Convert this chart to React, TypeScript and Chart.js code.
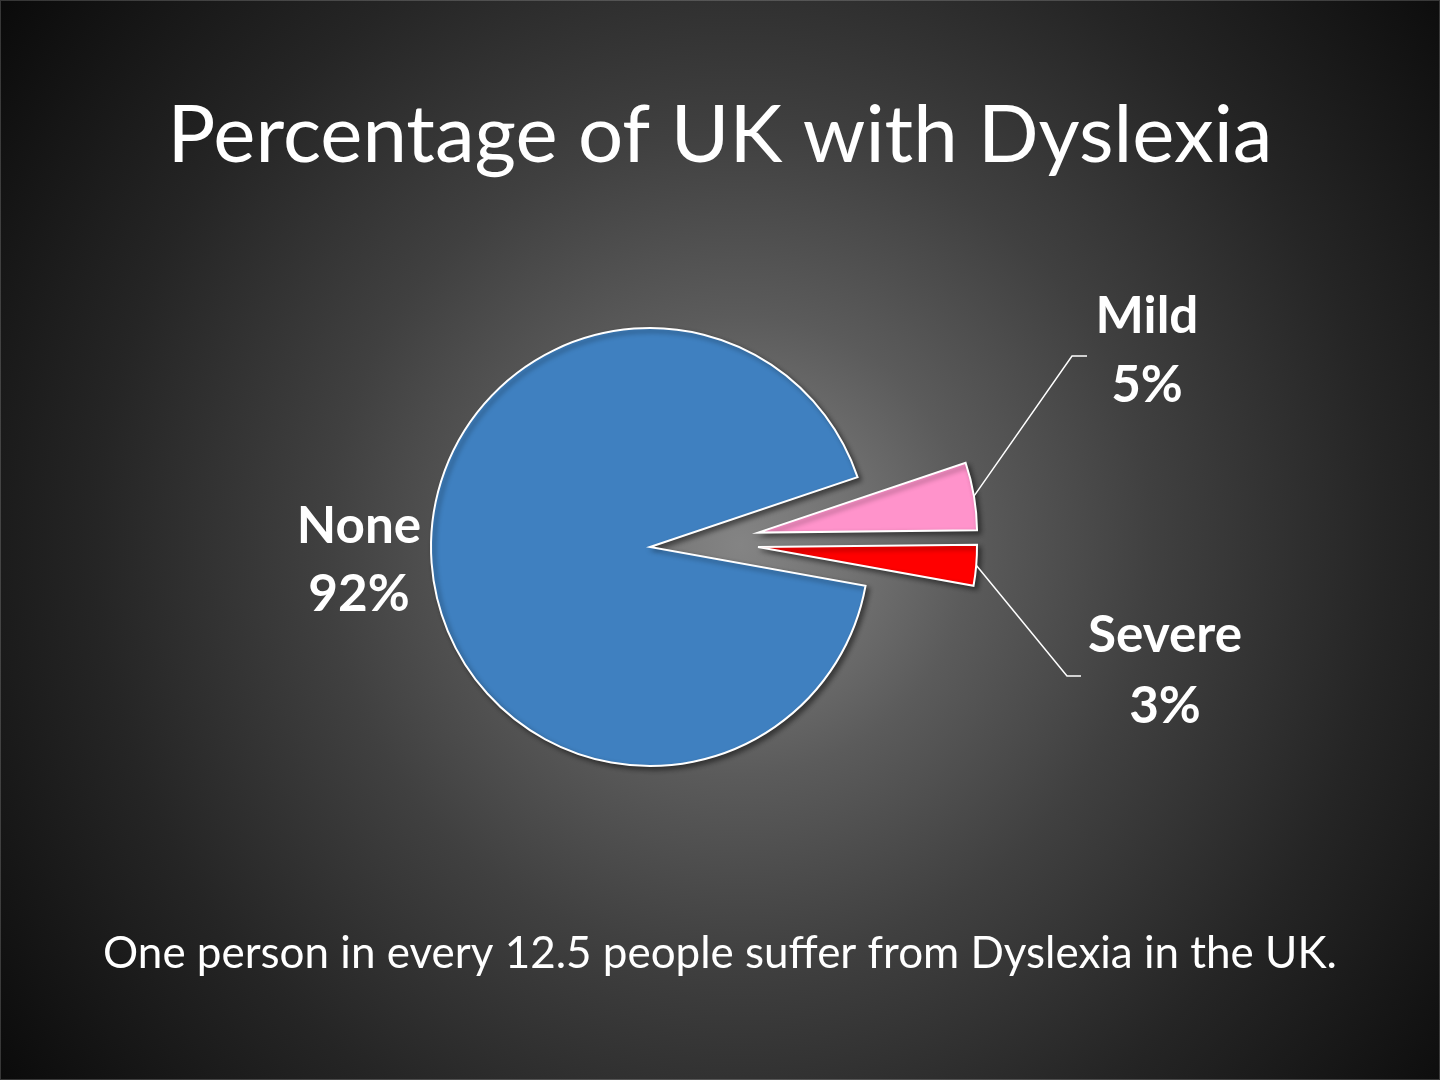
import { useEffect, useRef } from "react";
import { Chart, registerables, ArcElement, PieController } from "chart.js";

// ---- data ----
const categories = ["Mild", "Severe", "None"];
const percentages = [5, 3, 92];
const sliceColors = ["#FF93CB", "#FF0000", "#3F80C0"];
const explode = [109, 108, 0];
const explodeShift = [2, -4.8, 0]; // degrees of deviation from the slice bisector
const titleText = "Percentage of UK with Dyslexia";
const footnoteText = "One person in every 12.5 people suffer from Dyslexia in the UK.";

function explodeVector(startAngle: number, endAngle: number, dist: number, shiftDeg: number) {
  const dir = (startAngle + endAngle) / 2 + (shiftDeg * Math.PI) / 180;
  return { dx: Math.cos(dir) * dist, dy: Math.sin(dir) * dist };
}

// Exploded arc: translate the whole slice outward, keeping its radius
class ExplodedArc extends (ArcElement as any) {
  static id = "explodedArc";
  static defaults = { ...(ArcElement as any).defaults, explode: 0, explodeShift: 0 };
  draw(ctx: CanvasRenderingContext2D) {
    const self: any = this;
    const o = self.options || {};
    const v = explodeVector(self.startAngle, self.endAngle, o.explode || 0, o.explodeShift || 0);
    ctx.save();
    ctx.translate(v.dx, v.dy);
    super.draw(ctx);
    ctx.restore();
  }
}
class ExplodedPie extends (PieController as any) {
  static id = "explodedPie";
  static defaults = { ...(PieController as any).defaults, dataElementType: "explodedArc" };
}

Chart.register(...registerables, ExplodedArc as any, ExplodedPie as any);

// ---- label layout (styling only) ----
const labelLayout: Record<string, { x: number; y1: number; y2: number; elbow?: [number, number]; end?: [number, number] }> = {
  Mild: { x: 1147, y1: 333, y2: 402, elbow: [1072, 356], end: [1087, 356] },
  Severe: { x: 1165, y1: 652, y2: 723, elbow: [1067, 676], end: [1081, 676] },
  None: { x: 359, y1: 543, y2: 611 },
};

const FAMILY = "Lato, Carlito, Calibri, 'Open Sans', sans-serif";

function fitSize(ctx: CanvasRenderingContext2D, text: string, weight: string, target: number) {
  ctx.font = `${weight} 100px ${FAMILY}`;
  const w = ctx.measureText(text).width;
  return (100 * target) / w;
}

const slidePlugin = {
  id: "slide",
  beforeDraw(chart: any) {
    const { ctx, width, height } = chart;
    ctx.save();
    const g = ctx.createRadialGradient(740, 545, 0, 740, 545, 920);
    g.addColorStop(0, "#848484");
    g.addColorStop(0.12, "#737373");
    g.addColorStop(0.25, "#5b5b5b");
    g.addColorStop(0.45, "#404040");
    g.addColorStop(0.7, "#252525");
    g.addColorStop(1, "#0a0a0a");
    ctx.fillStyle = g;
    ctx.fillRect(0, 0, width, height);
    ctx.strokeStyle = "rgba(255,255,255,0.18)";
    ctx.lineWidth = 1;
    ctx.strokeRect(0.5, 0.5, width - 1, height - 1);
    ctx.restore();
  },
  beforeDatasetsDraw(chart: any) {
    const ctx = chart.ctx;
    ctx.save();
    ctx.shadowColor = "rgba(0,0,0,0.45)";
    ctx.shadowBlur = 5;
    ctx.shadowOffsetX = 3;
    ctx.shadowOffsetY = 3;
  },
  afterDatasetsDraw(chart: any) {
    chart.ctx.restore();
  },
  afterDraw(chart: any) {
    const { ctx } = chart;
    ctx.save();
    ctx.fillStyle = "#FFFFFF";
    ctx.textAlign = "center";
    ctx.textBaseline = "alphabetic";

    // title
    const ts = fitSize(ctx, titleText, "normal", 1105);
    ctx.font = `normal ${ts}px ${FAMILY}`;
    ctx.fillText(titleText, 720, 162);

    // footnote
    const fs = fitSize(ctx, footnoteText, "normal", 1234);
    ctx.font = `normal ${fs}px ${FAMILY}`;
    ctx.fillText(footnoteText, 720, 968);

    // data labels + leader lines
    const meta = chart.getDatasetMeta(0);
    const ls = fitSize(ctx, "Severe", "bold", 154);
    categories.forEach((cat, i) => {
      const lay = labelLayout[cat];
      if (!lay) return;
      const arc = meta.data[i];
      if (lay.elbow && lay.end && arc) {
        const p = arc.getProps(["x", "y", "startAngle", "endAngle", "outerRadius"], true);
        const mid = (p.startAngle + p.endAngle) / 2;
        const v = explodeVector(p.startAngle, p.endAngle, explode[i], explodeShift[i]);
        const sx = p.x + v.dx + Math.cos(mid) * p.outerRadius;
        const sy = p.y + v.dy + Math.sin(mid) * p.outerRadius;
        ctx.strokeStyle = "#FFFFFF";
        ctx.lineWidth = 1.5;
        ctx.beginPath();
        ctx.moveTo(sx, sy);
        ctx.lineTo(lay.elbow[0], lay.elbow[1]);
        ctx.lineTo(lay.end[0], lay.end[1]);
        ctx.stroke();
      }
      ctx.font = `bold ${ls}px ${FAMILY}`;
      ctx.fillText(cat, lay.x, lay.y1);
      ctx.fillText(`${percentages[i]}%`, lay.x, lay.y2);
    });
    ctx.restore();
  },
};

export default function App() {
  const ref = useRef<HTMLCanvasElement | null>(null);
  useEffect(() => {
    if (!ref.current) return;
    const chart = new Chart(ref.current, {
      type: "explodedPie" as any,
      data: {
        labels: categories,
        datasets: [
          {
            data: percentages,
            backgroundColor: sliceColors,
            borderColor: "#FFFFFF",
            borderWidth: 2,
            borderJoinStyle: "miter",
            explode: explode,
            explodeShift: explodeShift,
            offset: 0,
            hoverOffset: 0,
          } as any,
        ],
      },
      options: {
        responsive: false,
        animation: false,
        rotation: 71.4,
        radius: 219,
        layout: { padding: { left: 200, right: 340, top: 300, bottom: 286 } },
        plugins: {
          legend: { display: false },
          tooltip: { enabled: false },
          title: { display: false },
        },
        events: [],
      } as any,
      plugins: [slidePlugin],
    });
    return () => chart.destroy();
  }, []);
  return (
    <div style={{ position: "absolute", left: 0, top: 0, width: 1440, height: 1080 }}>
      <canvas ref={ref} width={1440} height={1080} style={{ display: "block", width: 1440, height: 1080 }} />
    </div>
  );
}
